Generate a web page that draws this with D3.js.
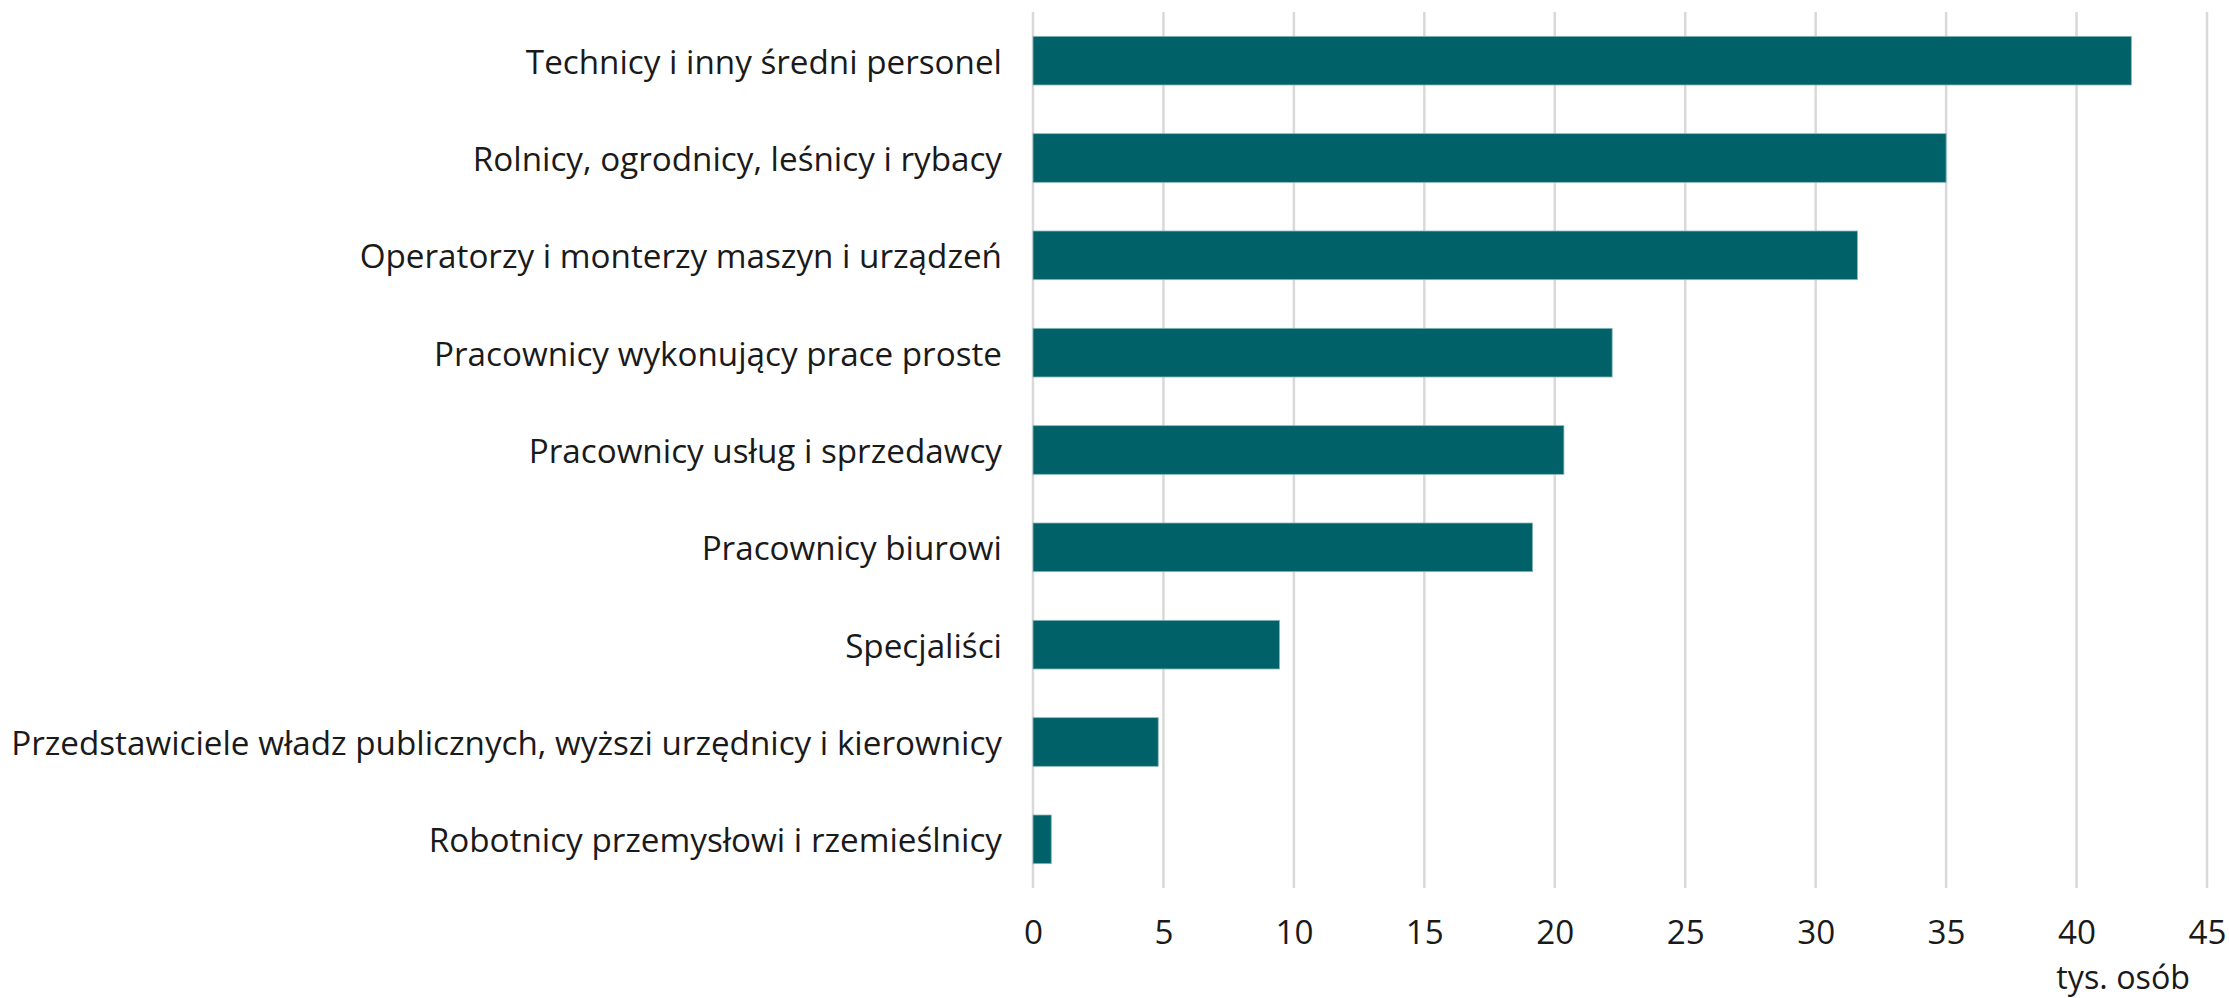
<!DOCTYPE html>
<html>
<head>
<meta charset="utf-8">
<script src="https://cdn.jsdelivr.net/npm/d3@7"></script>
<style>
  html, body { margin: 0; padding: 0; background: #ffffff; }
  svg { display: block; }
  text { font-family: "Open Sans", "Noto Sans", sans-serif; fill: #1a1a1a; }
</style>
</head>
<body>
<svg id="chart" width="2229" height="998"></svg>
<script>
const categories = [
  "Technicy i inny średni personel",
  "Rolnicy, ogrodnicy, leśnicy i rybacy",
  "Operatorzy i monterzy maszyn i urządzeń",
  "Pracownicy wykonujący prace proste",
  "Pracownicy usług i sprzedawcy",
  "Pracownicy biurowi",
  "Specjaliści",
  "Przedstawiciele władz publicznych, wyższi urzędnicy i kierownicy",
  "Robotnicy przemysłowi i rzemieślnicy"
];
const values = [42.1, 35.0, 31.6, 22.2, 20.35, 19.15, 9.45, 4.8, 0.7];
const xTicks = [0, 5, 10, 15, 20, 25, 30, 35, 40, 45];
const unitLabel = "tys. osób";

(function () {
const svg = d3.select("#chart");
const mLeft = 1033, mRight = 2207, mTop = 12, mBottom = 888;

const x = d3.scaleLinear().domain([0, 45]).range([mLeft, mRight]);
const y = d3.scaleBand().domain(categories).range([mTop, mBottom]).paddingInner(0.5).paddingOuter(0.25);

// gridlines
svg.append("g").selectAll("line").data(xTicks).join("line")
  .attr("x1", d => x(d)).attr("x2", d => x(d))
  .attr("y1", mTop).attr("y2", mBottom)
  .attr("stroke", "#d9d9d9").attr("stroke-width", 2.5);

// bars
svg.append("g").selectAll("rect").data(values).join("rect")
  .attr("x", x(0))
  .attr("y", (d, i) => y(categories[i]))
  .attr("width", d => x(d) - x(0))
  .attr("height", y.bandwidth())
  .attr("fill", "#006168")
  .attr("stroke", "#86b8ba").attr("stroke-width", 0.8);

// category labels, sized so the longest fits the reference width
const fs = 26;
const labels = svg.append("g").selectAll("text").data(categories).join("text")
  .attr("x", mLeft - 31)
  .attr("y", d => y(d) + y.bandwidth() / 2)
  .attr("text-anchor", "end")
  .attr("dominant-baseline", "central")
  .attr("font-size", fs)
  .text(d => d);
let maxW = 0;
labels.each(function() { maxW = Math.max(maxW, this.getComputedTextLength()); });
const fitFs = fs * 991 / maxW;
labels.attr("font-size", fitFs);

// x axis tick labels
const xAxis = d3.axisBottom(x).tickValues(xTicks).tickSize(0).tickPadding(0).tickFormat(d3.format("d"));
const gx = svg.append("g").attr("transform", `translate(0, ${mBottom})`).call(xAxis);
gx.select(".domain").remove();
gx.selectAll("text")
  .attr("font-size", fitFs)
  .attr("font-family", "\"Open Sans\", \"Noto Sans\", sans-serif")
  .attr("fill", "#1a1a1a")
  .attr("dy", null)
  .attr("y", 43)
  .attr("dominant-baseline", "central");

svg.append("text")
  .attr("x", 2190).attr("y", 989)
  .attr("text-anchor", "end")
  .attr("font-size", fitFs * 0.97)
  .text(unitLabel);
})();
</script>
</body>
</html>
